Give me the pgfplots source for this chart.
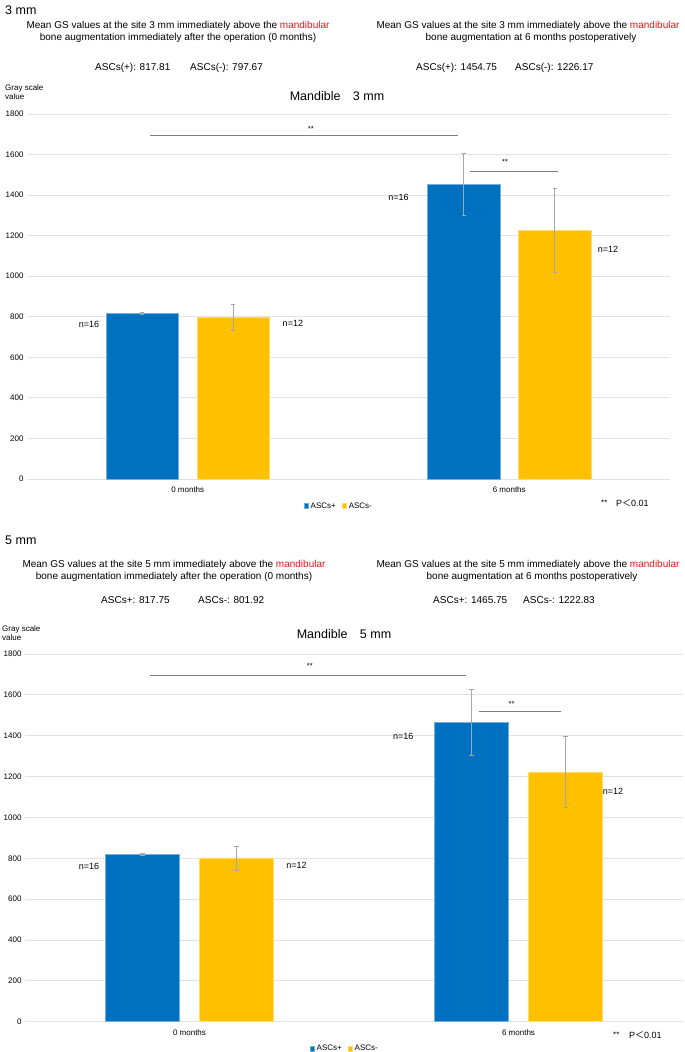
\documentclass[border=0pt]{standalone}
\usepackage{fontspec}
\setmainfont{Liberation Sans}
\newfontfamily\cjk{Noto Sans CJK JP}
\usepackage{pgfplots}
\pgfplotsset{compat=1.18}
\definecolor{ascblue}{HTML}{0070C0}
\definecolor{ascyel}{HTML}{FFC000}
\definecolor{mred}{HTML}{E8141B}
\definecolor{gridc}{HTML}{E2E2E2}
\definecolor{errc}{HTML}{A6A6A6}
\definecolor{sigc}{HTML}{7F7F7F}

\pgfplotstableread{
x y e
0 817.81 5
1 1454.75 152
}\topblue
\pgfplotstableread{
x y e
0 797.67 65
1 1226.17 205
}\topyel
\pgfplotstableread{
x y e
0 817.75 5
1 1465.75 161
}\botblue
\pgfplotstableread{
x y e
0 801.92 59
1 1222.83 175
}\botyel

\pgfplotsset{
 mystyle/.style={
  scale only axis, xmin=-0.5, xmax=1.5, ymin=0, ymax=1800,
  ytick={0,200,...,1800}, xtick={0,1}, xticklabels={0 months,6 months},
  ymajorgrids, grid style={gridc, line width=0.8pt},
  axis line style={draw=none}, tick style={draw=none},
  ybar, bar width=0.225,
  tick label style={font=\fontsize{8}{9}\selectfont},
  /pgf/number format/assume math mode=true,
  yticklabel style={/pgf/number format/1000 sep={}},
  clip=false,
  legend style={draw=none, fill=none, font=\fontsize{8}{9}\selectfont, legend columns=2,
    /tikz/every even column/.append style={column sep=4pt}, inner sep=0pt},
  legend image code/.code={\fill[##1] (0pt,-2.0pt) rectangle (4.4pt,2.4pt);},
 },
 errst/.style={error bars/.cd, y dir=both, y explicit,
   error bar style={errc, line width=0.8pt},
   error mark options={rotate=90, mark size=2.2pt, errc, line width=0.6pt}},
}

\begin{document}
\begin{tikzpicture}[x=1pt,y=1pt]
\useasboundingbox (0,0) rectangle (685,-1052);
\tikzset{hd/.style={font=\fontsize{10}{12}\selectfont, inner sep=0pt}}

% ---------- TOP HEADER ----------
\node[anchor=west, font=\fontsize{12.5}{14}\selectfont, inner sep=0pt] at (5,-10) {3 mm};
\node[hd] at (178,-26) {Mean GS values at the site 3 mm immediately above the \textcolor{mred}{mandibular}};
\node[hd] at (178,-38) {bone augmentation immediately after the operation (0 months)};
\node[hd] at (528,-26) {Mean GS values at the site 3 mm immediately above the \textcolor{mred}{mandibular}};
\node[hd] at (531,-38) {bone augmentation at 6 months postoperatively};
\node[hd, anchor=west] at (95,-68) {ASCs(+): 817.81};
\node[hd, anchor=west] at (190,-68) {ASCs(-): 797.67};
\node[hd, anchor=west] at (416,-68) {ASCs(+): 1454.75};
\node[hd, anchor=west] at (515,-68) {ASCs(-): 1226.17};
\node[anchor=west, font=\fontsize{8}{9}\selectfont, inner sep=0pt] at (5,-88) {Gray scale};
\node[anchor=west, font=\fontsize{8}{9}\selectfont, inner sep=0pt] at (5,-97) {value};
\node[font=\fontsize{12.5}{14}\selectfont, inner sep=0pt] at (337,-96) {Mandible\hspace{1em}3 mm};

\begin{axis}[mystyle, at={(27pt,-479pt)}, anchor=south west, width=643pt, height=365pt,
  legend style={at={(0.485,-0.074)}, anchor=center}]
\addplot[fill=ascblue, draw=ascblue!55!white, line width=0.5pt, bar shift=-0.1415, errst]
  table[x=x, y=y, y error=e] {\topblue};
\addplot[fill=ascyel, draw=ascyel!55!white, line width=0.5pt, bar shift=0.1415, errst]
  table[x=x, y=y, y error=e] {\topyel};
\legend{ASCs+, ASCs-}
\draw[sigc, line width=0.9pt] (axis cs:-0.1175,1695) -- (axis cs:0.8406,1695);
\node[font=\fontsize{7.5}{8}\selectfont] at (axis cs:0.383,1728) {**};
\draw[sigc, line width=0.9pt] (axis cs:0.878,1519) -- (axis cs:1.152,1519);
\node[font=\fontsize{7.5}{8}\selectfont] at (axis cs:0.987,1563) {**};
\node[font=\fontsize{9}{10}\selectfont] at (axis cs:-0.307,763) {n=16};
\node[font=\fontsize{9}{10}\selectfont] at (axis cs:0.327,766) {n=12};
\node[font=\fontsize{9}{10}\selectfont] at (axis cs:0.6555,1389) {n=16};
\node[font=\fontsize{9}{10}\selectfont] at (axis cs:1.307,1131) {n=12};
\end{axis}
\node[anchor=west, font=\fontsize{8}{9}\selectfont, inner sep=0pt] at (601,-503) {**};
\node[anchor=west, font=\fontsize{9}{10}\selectfont, inner sep=0pt] at (616,-503) {P{\cjk ＜}0.01};

% ---------- BOTTOM HEADER ----------
\node[anchor=west, font=\fontsize{12.5}{14}\selectfont, inner sep=0pt] at (5,-540) {5 mm};
\node[hd] at (174,-565) {Mean GS values at the site 5 mm immediately above the \textcolor{mred}{mandibular}};
\node[hd] at (174,-577) {bone augmentation immediately after the operation (0 months)};
\node[hd] at (528,-565) {Mean GS values at the site 5 mm immediately above the \textcolor{mred}{mandibular}};
\node[hd] at (532,-577) {bone augmentation at 6 months postoperatively};
\node[hd, anchor=west] at (101,-600) {ASCs+: 817.75};
\node[hd, anchor=west] at (198,-600) {ASCs-: 801.92};
\node[hd, anchor=west] at (433,-600) {ASCs+: 1465.75};
\node[hd, anchor=west] at (523,-600) {ASCs-: 1222.83};
\node[anchor=west, font=\fontsize{8}{9}\selectfont, inner sep=0pt] at (2,-629) {Gray scale};
\node[anchor=west, font=\fontsize{8}{9}\selectfont, inner sep=0pt] at (2,-638) {value};
\node[font=\fontsize{12.5}{14}\selectfont, inner sep=0pt] at (344,-634) {Mandible\hspace{1em}5 mm};

\begin{axis}[mystyle, at={(25pt,-1021.7pt)}, anchor=south west, width=658pt, height=367.7pt,
  legend style={at={(0.486,-0.074)}, anchor=center}]
\addplot[fill=ascblue, draw=ascblue!55!white, line width=0.5pt, bar shift=-0.143, errst]
  table[x=x, y=y, y error=e] {\botblue};
\addplot[fill=ascyel, draw=ascyel!55!white, line width=0.5pt, bar shift=0.143, errst]
  table[x=x, y=y, y error=e] {\botyel};
\legend{ASCs+, ASCs-}
\draw[sigc, line width=0.9pt] (axis cs:-0.12,1695) -- (axis cs:0.840,1695);
\node[font=\fontsize{7.5}{8}\selectfont] at (axis cs:0.366,1741) {**};
\draw[sigc, line width=0.9pt] (axis cs:0.880,1517) -- (axis cs:1.129,1517);
\node[font=\fontsize{7.5}{8}\selectfont] at (axis cs:0.979,1558) {**};
\node[font=\fontsize{9}{10}\selectfont] at (axis cs:-0.3055,759) {n=16};
\node[font=\fontsize{9}{10}\selectfont] at (axis cs:0.325,765.5) {n=12};
\node[font=\fontsize{9}{10}\selectfont] at (axis cs:0.650,1398) {n=16};
\node[font=\fontsize{9}{10}\selectfont] at (axis cs:1.287,1129) {n=12};
\end{axis}
\node[anchor=west, font=\fontsize{8}{9}\selectfont, inner sep=0pt] at (613,-1035) {**};
\node[anchor=west, font=\fontsize{9}{10}\selectfont, inner sep=0pt] at (629,-1035) {P{\cjk ＜}0.01};
\end{tikzpicture}
\end{document}
